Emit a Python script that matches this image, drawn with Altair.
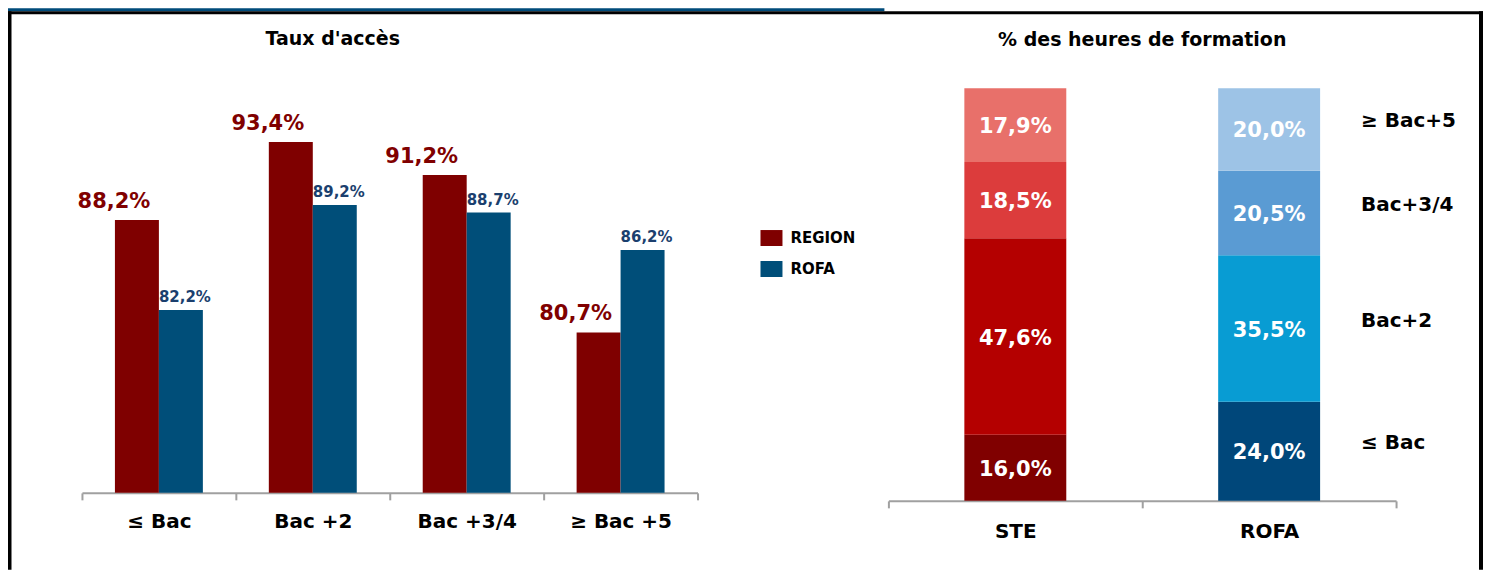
import altair as alt
import pandas as pd

FONT = "DejaVu Sans"

# ---- data: left chart (Taux d'accès) ----
levels_left = ["≤ Bac", "Bac +2", "Bac +3/4", "≥ Bac +5"]
series = ["REGION", "ROFA"]
region_vals = [88.2, 93.4, 91.2, 80.7]
rofa_vals = [82.2, 89.2, 88.7, 86.2]

# ---- data: right chart (% des heures de formation) ----
groups_right = ["STE", "ROFA"]
levels_right = ["≤ Bac", "Bac+2", "Bac+3/4", "≥ Bac+5"]
ste_share = [16.0, 47.6, 18.5, 17.9]
rofa_share = [24.0, 35.5, 20.5, 20.0]

# ---- colours ----
bar_colors_left = ["#7F0000", "#004E79"]
ste_colors = ["#800000", "#B40000", "#DC3C3C", "#E8706A"]
rofa_colors = ["#00477A", "#089CD3", "#5A9BD3", "#9DC3E6"]


def fmt(v):
    return f"{v:.1f}".replace(".", ",") + "%"


rows = []
for s, vals in zip(series, [region_vals, rofa_vals]):
    for lvl, v in zip(levels_left, vals):
        rows.append({"level": lvl, "series": s, "value": v, "label": fmt(v)})
df_left = pd.DataFrame(rows)

rows = []
for g, vals, cols in zip(groups_right, [ste_share, rofa_share], [ste_colors, rofa_colors]):
    for i, (lvl, v, c) in enumerate(zip(levels_right, vals, cols)):
        rows.append({"group": g, "level": lvl, "value": v, "color": c, "idx": i, "label": fmt(v)})
df_right = pd.DataFrame(rows)

frame_df = pd.DataFrame({"k": [0]})

# ---------------- left chart ----------------
x_left = alt.X(
    "level:N",
    sort=levels_left,
    scale=alt.Scale(paddingInner=0, paddingOuter=0),
    axis=alt.Axis(
        title=None, labelAngle=0, labelFont=FONT, labelFontWeight="bold", labelFontSize=20,
        labelColor="black", labelPadding=12, domainColor="#A0A0A0", domainWidth=2,
        tickColor="#A0A0A0", tickWidth=2, tickSize=7, tickBand="extent", grid=False,
    ),
)
xoff_left = alt.XOffset("series:N", sort=series, scale=alt.Scale(paddingInner=0, paddingOuter=0.75))
y_left = alt.Y("value:Q", scale=alt.Scale(domain=[70, 97], nice=False, zero=False), axis=None)

bars_l = alt.Chart(df_left).mark_bar().encode(
    x=x_left,
    xOffset=xoff_left,
    y=y_left,
    y2=alt.datum(70),
    color=alt.Color(
        "series:N", sort=series,
        scale=alt.Scale(domain=series, range=bar_colors_left),
        legend=alt.Legend(
            title=None, orient="none", legendX=679, legendY=139,
            symbolType="M-1,-0.727L1,-0.727L1,0.727L-1,0.727Z", symbolSize=484,
            symbolStrokeWidth=0, labelFont=FONT, labelFontWeight="bold", labelFontSize=15,
            labelColor="black", rowPadding=12, labelOffset=8, padding=0,
        ),
    ),
)

txt_region = alt.Chart(df_left).transform_filter(alt.datum.series == "REGION").mark_text(
    font=FONT, fontWeight="bold", fontSize=21, color="#800000", dx=-23, dy=-12, baseline="alphabetic"
).encode(x=x_left, xOffset=xoff_left, y=y_left, text="label:N")

txt_rofa = alt.Chart(df_left).transform_filter(alt.datum.series == "ROFA").mark_text(
    font=FONT, fontWeight="bold", fontSize=15, color="#1B3F6E", dx=4, dy=-8, baseline="alphabetic"
).encode(x=x_left, xOffset=xoff_left, y=y_left, text="label:N")

# decorative frame around the figure (pixel values relative to the left plot)
strip = alt.Chart(frame_df).mark_rect(color="#004B7A").encode(
    x=alt.value(-74), x2=alt.value(803), y=alt.value(-80), y2=alt.value(-77))
top_line = alt.Chart(frame_df).mark_rect(color="black").encode(
    x=alt.value(-74), x2=alt.value(1402), y=alt.value(-77), y2=alt.value(-74))
left_line = alt.Chart(frame_df).mark_rect(color="black").encode(
    x=alt.value(-74), x2=alt.value(-70.5), y=alt.value(-77), y2=alt.value(482))
right_line = alt.Chart(frame_df).mark_rect(color="black").encode(
    x=alt.value(1398), x2=alt.value(1402), y=alt.value(-77), y2=alt.value(482))

left = alt.layer(strip, top_line, left_line, right_line, bars_l, txt_region, txt_rofa).properties(
    width=616, height=405,
    title=alt.TitleParams(
        "Taux d'accès", font=FONT, fontSize=19, fontWeight="bold", color="black",
        anchor="middle", dx=-57, offset=-56, baseline="alphabetic", frame="group",
    ),
)

# ---------------- right chart ----------------
x_right = alt.X(
    "group:N",
    sort=groups_right,
    scale=alt.Scale(paddingInner=0, paddingOuter=0),
    axis=alt.Axis(
        title=None, labelAngle=0, labelFont=FONT, labelFontWeight="bold", labelFontSize=20,
        labelColor="black", labelPadding=14, domainColor="#A0A0A0", domainWidth=2,
        tickColor="#A0A0A0", tickWidth=2, tickSize=7, tickBand="extent", grid=False,
    ),
)
y_right = alt.Y("value:Q", stack="zero", scale=alt.Scale(domain=[0, 100], nice=False), axis=None)

bars_r = alt.Chart(df_right).mark_bar(size=102).encode(
    x=x_right,
    y=y_right,
    color=alt.Color("color:N", scale=None),
    order=alt.Order("idx:Q", sort="ascending"),
)

stacked = alt.Chart(df_right).transform_stack(
    stack="value", as_=["v0", "v1"], groupby=["group"],
    sort=[alt.SortField("idx", order="ascending")],
).transform_calculate(mid="(datum.v0 + datum.v1) / 2")

y_mid = alt.Y("mid:Q", scale=alt.Scale(domain=[0, 100], nice=False), axis=None)

seg_txt = stacked.mark_text(
    font=FONT, fontWeight="bold", fontSize=21, color="white", baseline="middle", dy=2
).encode(x=x_right, y=y_mid, text="label:N")

lvl_txt = stacked.transform_filter(alt.datum.group == "ROFA").mark_text(
    font=FONT, fontWeight="bold", fontSize=20, color="black", align="left",
    baseline="middle", dx=92, dy=-8,
).encode(x=x_right, y=y_mid, text="level:N")

right = alt.layer(bars_r, seg_txt, lvl_txt).properties(
    width=508, height=413,
    title=alt.TitleParams(
        "% des heures de formation", font=FONT, fontSize=19, fontWeight="bold", color="black",
        anchor="middle", offset=23, baseline="alphabetic", frame="group",
    ),
)

chart = alt.hconcat(left, right, spacing=191, bounds="flush").properties(
    padding=0
).configure_view(stroke=None)

chart.save("out.html", embed_options={"renderer": "svg", "actions": False})
